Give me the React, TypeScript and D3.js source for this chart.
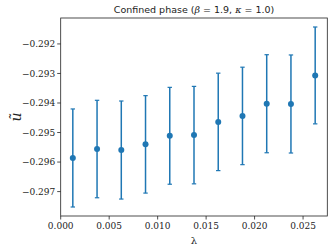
import React from "react";
import * as d3 from "d3";

const lambdas = [0.00125, 0.00375, 0.00625, 0.00875, 0.01125, 0.01375, 0.01625, 0.01875, 0.02125, 0.02375, 0.02625];
const uValues = [-0.295862, -0.295559, -0.295593, -0.295401, -0.295111, -0.295088, -0.294640, -0.294438, -0.294025, -0.294034, -0.293067];
const uErrors = [0.00166, 0.00165, 0.00166, 0.00165, 0.00164, 0.00165, 0.00165, 0.00165, 0.00166, 0.00166, 0.00164];
const xTicks = [0, 0.005, 0.01, 0.015, 0.02, 0.025];
const yTicks = [-0.292, -0.293, -0.294, -0.295, -0.296, -0.297];

const W = 332, H = 252;
const L = 60.7, R = 327.3, T = 18, B = 216;
const BLUE = "#1f77b4";
const SERIF = "'DejaVu Serif', serif";

export default function App() {
  const x = d3.scaleLinear().domain([0, 0.0275]).range([L, R]);
  const yMax = d3.max(uValues.map((v, i) => v + uErrors[i]))!;
  const yMin = d3.min(uValues.map((v, i) => v - uErrors[i]))!;
  const pad = (yMax - yMin) * 0.05;
  const y = d3.scaleLinear().domain([yMin - pad, yMax + pad]).range([B, T]);
  const fmt = (v: number) => d3.format(".3f")(v).replace("-", "\u2212");
  return (
    <svg width={W} height={H} style={{ position: "absolute", left: 0, top: 0, background: "#fff" }}>
      <rect x={0} y={0} width={W} height={H} fill="#fff" />
      {lambdas.map((l, i) => {
        const cx = x(l);
        const y1 = y(uValues[i] + uErrors[i]);
        const y2 = y(uValues[i] - uErrors[i]);
        return (
          <g key={i}>
            <line x1={cx} x2={cx} y1={y1} y2={y2} stroke={BLUE} strokeWidth={1.5} />
            <line x1={cx - 2.2} x2={cx + 2.2} y1={y1} y2={y1} stroke={BLUE} strokeWidth={1.2} />
            <line x1={cx - 2.2} x2={cx + 2.2} y1={y2} y2={y2} stroke={BLUE} strokeWidth={1.2} />
            <circle cx={cx} cy={y(uValues[i])} r={3} fill={BLUE} />
          </g>
        );
      })}
      <rect x={L} y={T} width={R - L} height={B - T} fill="none" stroke="#222" strokeWidth={0.8} />
      {xTicks.map((t) => (
        <g key={t}>
          <line x1={x(t)} x2={x(t)} y1={B} y2={B + 3.5} stroke="#222" strokeWidth={0.8} />
          <text x={x(t)} y={B + 13} textAnchor="middle" fontFamily={SERIF} fontSize={9} fill="#222">
            {d3.format(".3f")(t)}
          </text>
        </g>
      ))}
      {yTicks.map((t) => (
        <g key={t}>
          <line x1={L - 3.5} x2={L} y1={y(t)} y2={y(t)} stroke="#222" strokeWidth={0.8} />
          <text x={L - 5.5} y={y(t) + 3.2} textAnchor="end" fontFamily={SERIF} fontSize={9} fill="#222">
            {fmt(t)}
          </text>
        </g>
      ))}
      <text x={(L + R) / 2} y={244} textAnchor="middle" fontFamily={SERIF} fontSize={10} fill="#222">λ</text>
      <text transform={`translate(21,117) rotate(-90)`} textAnchor="middle" fontFamily={SERIF} fontStyle="italic" fontSize={14} fill="#222">ũ</text>
      <text x={(L + R) / 2} y={13} textAnchor="middle" fontFamily="'DejaVu Sans', sans-serif" fontSize={9.5} fill="#222">
        Confined phase (<tspan fontFamily={SERIF} fontStyle="italic">β</tspan> = 1.9, <tspan fontFamily={SERIF} fontStyle="italic">κ</tspan> = 1.0)
      </text>
    </svg>
  );
}
